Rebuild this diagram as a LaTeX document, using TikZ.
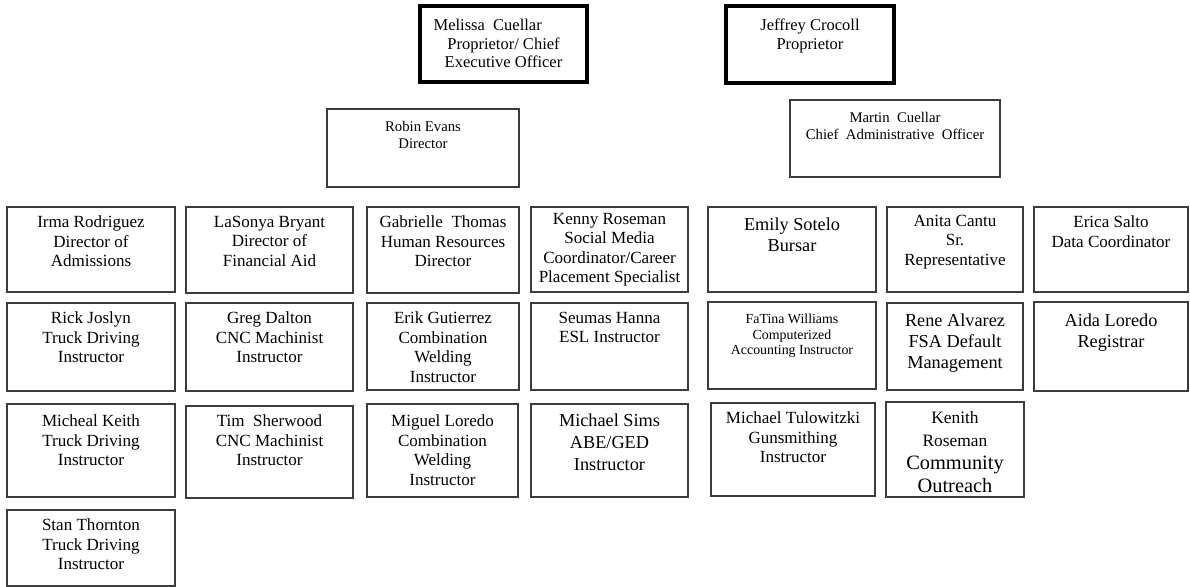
\documentclass[tikz,border=0pt]{standalone}
\usepackage{fontspec}
\setmainfont{Liberation Serif}
\usetikzlibrary{positioning, fit}
\definecolor{boxLine}{HTML}{3C3C3C}
\newcommand{\cellfont}{\fontsize{9.7}{11.1}\selectfont}
\newcommand{\widecellfont}{\fontsize{10.4}{12}\selectfont}
\newcommand{\smallcellfont}{\fontsize{7.9}{8.6}\selectfont}
\newcommand{\ownerfont}{\fontsize{9.4}{10.4}\selectfont}
\newcommand{\headfont}{\fontsize{8.4}{9.8}\selectfont}
\newcommand{\outreachfont}{\fontsize{11.6}{13}\selectfont}
\tikzset{
  cell/.style={rectangle, draw=boxLine, line width=0.6pt, inner sep=0pt},
  ownerCell/.style={rectangle, draw=black, line width=2.4pt, inner sep=0pt},
  lbl/.style={anchor=north, inner sep=0pt, align=center, yshift=#1,
              font=\cellfont, execute at begin node=\strut},
  lbl/.default=-5.3pt,
}

\begin{document}
\begin{tikzpicture}[x=0.02cm, y=-0.02cm]
  \useasboundingbox (0,0) rectangle (1190,587);

  % proprietors
  \node[ownerCell, fit={(420,6) (587,82)},
    label={[lbl=-8.6pt, font=\ownerfont]north:{Melissa\ \ Cuellar\hspace*{18pt}\\Proprietor/ Chief\\Executive Officer}}] (melissa) {};
  \node[ownerCell, fit={(726,6) (894,83)},
    label={[lbl=-8.6pt, font=\ownerfont]north:{Jeffrey Crocoll\\Proprietor}}] (jeffrey) {};

  % directors
  \node[cell, fit={(327,109) (519,187)},
    label={[lbl=-6.8pt, font=\headfont]north:{Robin Evans\\Director}}] (robin) {};
  \node[cell, fit={(790,100) (1000,177)},
    label={[lbl=-6.8pt, font=\headfont]north:{Martin\ \ Cuellar\\Chief\ \ Administrative\ \ Officer}}] (martin) {};

  % first row
  \node[cell, fit={(7,207) (175,292)},
    label={[lbl]north:{Irma Rodriguez\\Director of\\Admissions}}] (irma) {};
  \node[cell, fit={(186,207) (353,293)},
    label={[lbl]north:{LaSonya Bryant\\Director of\\Financial Aid}}] (lasonya) {};
  \node[cell, fit={(367,207) (519,293)},
    label={[lbl]north:{Gabrielle\ \ Thomas\\Human Resources\\Director}}] (gabrielle) {};
  \node[cell, fit={(531,207) (688,292)},
    label={[lbl=-3.6pt]north:{Kenny Roseman\\Social Media\\Coordinator/Career\\Placement Specialist}}] (kenny) {};
  \node[cell, fit={(708,207) (876,292)},
    label={[lbl=-6.1pt, font=\widecellfont]north:{Emily Sotelo\\Bursar}}] (emily) {};
  \node[cell, fit={(887,207) (1023,292)},
    label={[lbl=-4.7pt]north:{Anita Cantu\\Sr.\\Representative}}] (anita) {};
  \node[cell, fit={(1034,207) (1188,292)},
    label={[lbl]north:{Erica Salto\\Data Coordinator}}] (erica) {};

  % second row
  \node[cell, fit={(7,303) (175,391)},
    label={[lbl]north:{Rick Joslyn\\Truck Driving\\Instructor}}] (rick) {};
  \node[cell, fit={(186,303) (353,391)},
    label={[lbl]north:{Greg Dalton\\CNC Machinist\\Instructor}}] (greg) {};
  \node[cell, fit={(367,303) (519,390)},
    label={[lbl]north:{Erik Gutierrez\\Combination\\Welding\\Instructor}}] (erik) {};
  \node[cell, fit={(531,303) (688,390)},
    label={[lbl]north:{Seumas Hanna\\ESL Instructor}}] (seumas) {};
  \node[cell, fit={(708,302) (876,389)},
    label={[lbl=-7.1pt, font=\smallcellfont]north:{FaTina Williams\\Computerized\\Accounting Instructor}}] (fatina) {};
  \node[cell, fit={(887,303) (1023,390)},
    label={[lbl=-6.1pt, font=\widecellfont]north:{Rene Alvarez\\FSA Default\\Management}}] (rene) {};
  \node[cell, fit={(1034,302) (1188,391)},
    label={[lbl=-6.7pt, font=\widecellfont]north:{Aida Loredo\\Registrar}}] (aida) {};

  % third row
  \node[cell, fit={(7,404) (175,497)},
    label={[lbl=-6.2pt]north:{Micheal Keith\\Truck Driving\\Instructor}}] (micheal) {};
  \node[cell, fit={(186,406) (353,498)},
    label={[lbl]north:{Tim\ \ Sherwood\\CNC Machinist\\Instructor}}] (tim) {};
  \node[cell, fit={(367,404) (518,497)},
    label={[lbl=-6.2pt]north:{Miguel Loredo\\Combination\\Welding\\Instructor}}] (miguel) {};
  \node[cell, fit={(531,404) (688,497)},
    label={[lbl=-5.6pt, font=\fontsize{10.4}{12.5}\selectfont]north:{Michael Sims\\ABE/GED\\Instructor}}] (sims) {};
  \node[cell, fit={(711,403) (875,496)},
    label={[lbl]north:{Michael Tulowitzki\\Gunsmithing\\Instructor}}] (tulowitzki) {};
  \node[cell, fit={(886,402) (1024,497)},
    label={[lbl=-5.7pt, font=\fontsize{9.9}{13}\selectfont]north:{Kenith\\Roseman\\{\outreachfont Community}\\{\outreachfont Outreach}}}] (kenith) {};

  % fourth row
  \node[cell, fit={(7,510) (175,586)},
    label={[lbl]north:{Stan Thornton\\Truck Driving\\Instructor}}] (stan) {};
\end{tikzpicture}
\end{document}
